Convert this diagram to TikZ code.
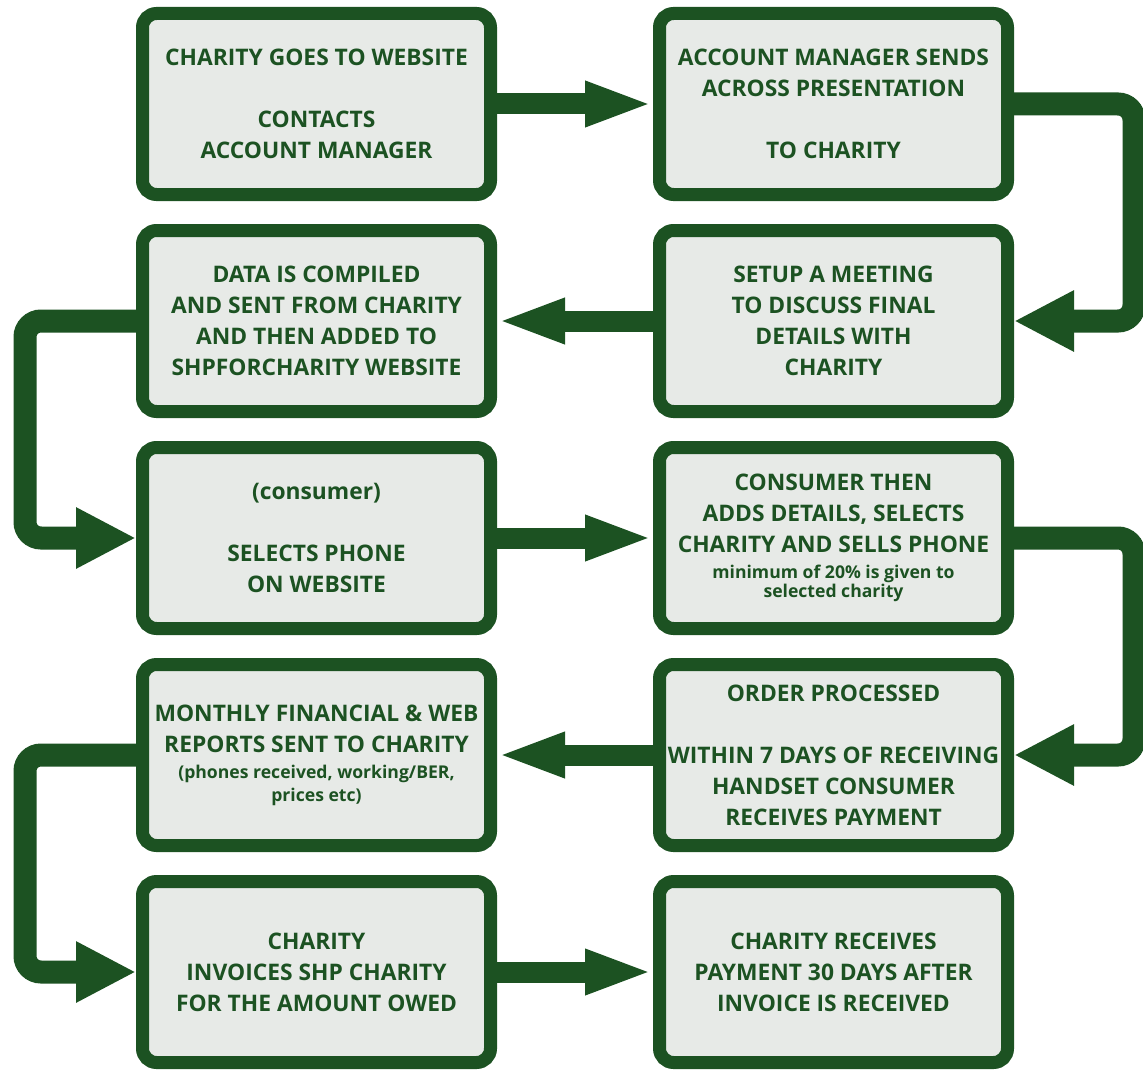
\documentclass[tikz,border=0pt]{standalone}
\usepackage{fontspec}
\setmainfont{Open Sans}
\usetikzlibrary{arrows.meta,positioning}

\definecolor{shpgreen}{RGB}{28,82,34}
\definecolor{shpfill}{RGB}{231,234,231}

\newcommand{\smalltext}[1]{{\fontsize{17.6}{19}\selectfont #1}}

\begin{document}
\begin{tikzpicture}[x=1pt,y=-1pt,node distance=23pt and 156pt,
  main node/.style={draw=shpgreen,line width=13pt,fill=shpfill,rounded corners=14pt,
    minimum width=348pt,minimum height=181pt,inner sep=0pt,align=center,
    text=shpgreen,font=\bfseries\fontsize{22.8}{31}\selectfont},
  step arrow/.style={draw=shpgreen,line width=21pt,-{Triangle[length=68pt,width=41pt]}},
  loop arrow/.style={draw=shpgreen,line width=23pt,rounded corners=16pt,
    -{Triangle[length=60pt,width=57pt]}}]

  \useasboundingbox (0,0) rectangle (1143,1070);

  \node[main node] (1) at (316.5,104) {CHARITY GOES TO WEBSITE\\[31pt]CONTACTS\\ACCOUNT MANAGER};
  \node[main node] (2) [right=of 1] {ACCOUNT MANAGER SENDS\\ACROSS PRESENTATION\\[31pt]TO CHARITY};
  \node[main node] (3) [below=of 2] {SETUP A MEETING\\TO DISCUSS FINAL\\DETAILS WITH\\CHARITY};
  \node[main node] (4) [below=of 1] {DATA IS COMPILED\\AND SENT FROM CHARITY\\AND THEN ADDED TO\\SHPFORCHARITY WEBSITE};
  \node[main node] (5) [below=of 4] {(consumer)\\[31pt]SELECTS PHONE\\ON WEBSITE};
  \node[main node] (6) [below=of 3] {CONSUMER THEN\\ADDS DETAILS, SELECTS\\CHARITY AND SELLS PHONE\\[-5pt]
    \smalltext{minimum of 20\% is given to}\\[-12pt]\smalltext{selected charity}};
  \node[main node] (7) [below=of 6] {ORDER PROCESSED\\[31pt]WITHIN 7 DAYS OF RECEIVING\\HANDSET CONSUMER\\RECEIVES PAYMENT};
  \node[main node] (8) [below=of 5] {MONTHLY FINANCIAL \& WEB\\REPORTS SENT TO CHARITY\\[-5pt]
    \smalltext{(phones received, working/BER,}\\[-8pt]\smalltext{prices etc)}};
  \node[main node] (9) [below=of 8] {CHARITY\\INVOICES SHP CHARITY\\FOR THE AMOUNT OWED};
  \node[main node] (10) [below=of 7] {CHARITY RECEIVES\\PAYMENT 30 DAYS AFTER\\INVOICE IS RECEIVED};

  % straight steps
  \draw[step arrow] (1) -- (2);
  \draw[step arrow] (3) -- (4);
  \draw[step arrow] (5) -- (6);
  \draw[step arrow] (7) -- (8);
  \draw[step arrow] (9) -- (10);

  % loops round the sides
  \draw[loop arrow] (2.east) -- ++(120,0) |- (3.east);
  \draw[loop arrow] (4.west) -- ++(-111,0) |- (5.west);
  \draw[loop arrow] (6.east) -- ++(120,0) |- (7.east);
  \draw[loop arrow] (8.west) -- ++(-111,0) |- (9.west);
\end{tikzpicture}
\end{document}
